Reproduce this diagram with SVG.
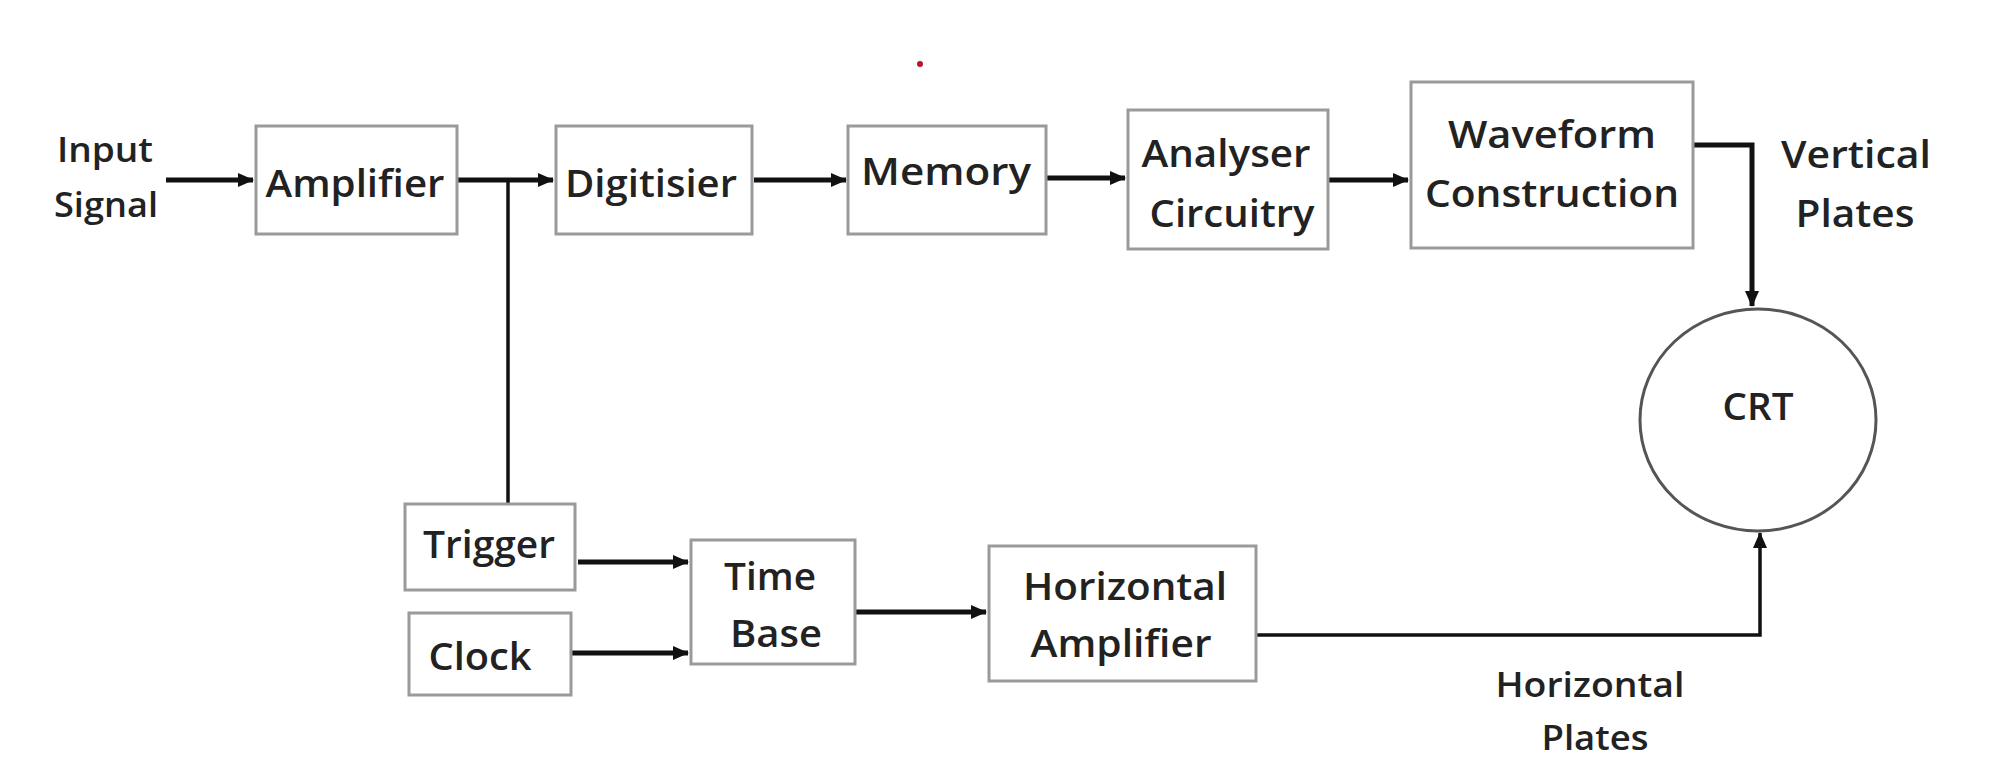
<svg xmlns="http://www.w3.org/2000/svg" width="2000" height="779" viewBox="0 0 2000 779">
<style>
.box{fill:#fff;stroke:#9a9a9a;stroke-width:3}
.crt{fill:#fff;stroke:#555;stroke-width:3}
text{font-family:"Open Sans","Liberation Sans",sans-serif;font-size:37px;font-weight:600;fill:#222;text-anchor:middle}
.sm{font-size:34px}
.w{fill:none;stroke:#111;stroke-width:5}
.t{fill:none;stroke:#111;stroke-width:3.5}
</style>
<defs>
<marker id="ah" markerUnits="userSpaceOnUse" markerWidth="18" markerHeight="18" refX="15" refY="9" orient="auto">
<path d="M0,2 L16,9 L0,16 Z" fill="#111"/>
</marker>
</defs>
<rect width="2000" height="779" fill="#fff"/>
<circle cx="920" cy="64" r="3" fill="#c0102a"/>
<g id="connectors">
<line class="w" x1="166" y1="180" x2="253" y2="180" marker-end="url(#ah)"/>
<line class="w" x1="458" y1="180" x2="553" y2="180" marker-end="url(#ah)"/>
<line class="t" x1="508" y1="180" x2="508" y2="503"/>
<line class="w" x1="754" y1="180" x2="846" y2="180" marker-end="url(#ah)"/>
<line class="w" x1="1046" y1="178" x2="1125" y2="178" marker-end="url(#ah)"/>
<line class="w" x1="1328" y1="180" x2="1408" y2="180" marker-end="url(#ah)"/>
<polyline class="w" points="1692,145 1752,145 1752,306" marker-end="url(#ah)"/>
<line class="w" x1="578" y1="562" x2="688" y2="562" marker-end="url(#ah)"/>
<line class="w" x1="572" y1="653" x2="688" y2="653" marker-end="url(#ah)"/>
<line class="w" x1="856" y1="612" x2="986" y2="612" marker-end="url(#ah)"/>
<polyline class="t" points="1257,635 1760,635 1760,533" marker-end="url(#ah)"/>
</g>
<g id="input-signal">
<text class="sm" x="105" y="162" textLength="96" lengthAdjust="spacingAndGlyphs">Input</text>
<text class="sm" x="106" y="217" textLength="104" lengthAdjust="spacingAndGlyphs">Signal</text>
</g>
<g id="amplifier">
<rect class="box" x="256" y="126" width="201" height="108"/>
<text x="355" y="197" textLength="179" lengthAdjust="spacingAndGlyphs">Amplifier</text>
</g>
<g id="digitisier">
<rect class="box" x="556" y="126" width="196" height="108"/>
<text x="651" y="197" textLength="172" lengthAdjust="spacingAndGlyphs">Digitisier</text>
</g>
<g id="memory">
<rect class="box" x="848" y="126" width="198" height="108"/>
<text x="946" y="185" textLength="170" lengthAdjust="spacingAndGlyphs">Memory</text>
</g>
<g id="analyser">
<rect class="box" x="1128" y="110" width="200" height="139"/>
<text x="1226" y="167" textLength="169" lengthAdjust="spacingAndGlyphs">Analyser</text>
<text x="1232" y="227" textLength="165" lengthAdjust="spacingAndGlyphs">Circuitry</text>
</g>
<g id="waveform">
<rect class="box" x="1411" y="82" width="282" height="166"/>
<text x="1552" y="148" textLength="208" lengthAdjust="spacingAndGlyphs">Waveform</text>
<text x="1552" y="207" textLength="254" lengthAdjust="spacingAndGlyphs">Construction</text>
</g>
<g id="vertical-plates">
<text x="1856" y="168" textLength="150" lengthAdjust="spacingAndGlyphs">Vertical</text>
<text x="1855" y="227" textLength="119" lengthAdjust="spacingAndGlyphs">Plates</text>
</g>
<g id="crt">
<ellipse class="crt" cx="1758" cy="420" rx="118" ry="111"/>
<text x="1758" y="420" textLength="71" lengthAdjust="spacingAndGlyphs">CRT</text>
</g>
<g id="trigger">
<rect class="box" x="405" y="504" width="170" height="86"/>
<text x="489" y="558" textLength="132" lengthAdjust="spacingAndGlyphs">Trigger</text>
</g>
<g id="clock">
<rect class="box" x="409" y="613" width="162" height="82"/>
<text x="480" y="670" textLength="103" lengthAdjust="spacingAndGlyphs">Clock</text>
</g>
<g id="time-base">
<rect class="box" x="691" y="540" width="164" height="124"/>
<text x="770" y="590" textLength="92" lengthAdjust="spacingAndGlyphs">Time</text>
<text x="776" y="647" textLength="92" lengthAdjust="spacingAndGlyphs">Base</text>
</g>
<g id="horizontal-amplifier">
<rect class="box" x="989" y="546" width="267" height="135"/>
<text x="1125" y="600" textLength="204" lengthAdjust="spacingAndGlyphs">Horizontal</text>
<text x="1121" y="657" textLength="181" lengthAdjust="spacingAndGlyphs">Amplifier</text>
</g>
<g id="horizontal-plates">
<text class="sm" x="1590" y="697" textLength="189" lengthAdjust="spacingAndGlyphs">Horizontal</text>
<text class="sm" x="1595" y="750" textLength="107" lengthAdjust="spacingAndGlyphs">Plates</text>
</g>
</svg>
